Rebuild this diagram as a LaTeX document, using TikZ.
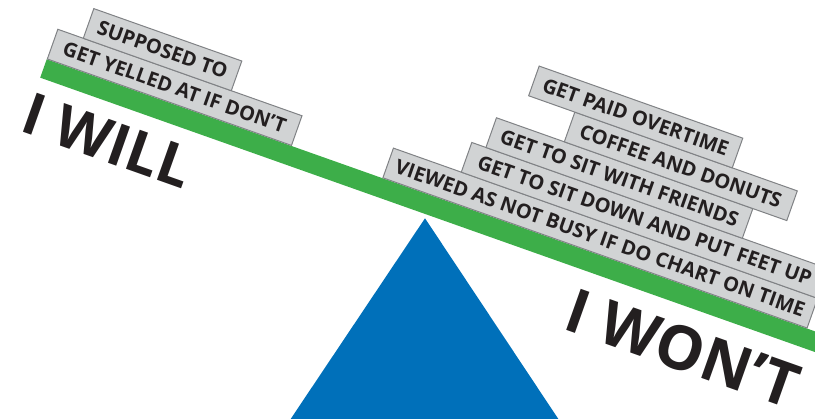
\documentclass[tikz,border=0pt]{standalone}
\usepackage{fontspec}
\setmainfont{Open Sans}
\usetikzlibrary{positioning}
\definecolor{beamgreen}{HTML}{3DAE49}
\definecolor{pivotblue}{HTML}{0070BA}
\definecolor{tagfill}{HTML}{D1D3D4}
\definecolor{tagline}{HTML}{808285}
\definecolor{inkblack}{HTML}{231F20}

\begin{document}
\begin{tikzpicture}[
      x=1pt, y=1pt,
      tag/.style={draw=tagline, fill=tagfill, line width=1pt, anchor=south west,
                  minimum height=31.5pt, inner sep=0pt, text=inkblack,
                  font=\bfseries\fontsize{20}{20}\selectfont},
      bigword/.style={anchor=base west, inner sep=0pt, text=inkblack,
                      font=\bfseries\fontsize{#1}{#1}\selectfont},
      bigword/.default=60
  ]
      \useasboundingbox (0,0) rectangle (815,419);
      \clip (0,0) rectangle (815,419);

      % pivot under the plank
      \fill[pivotblue] (425,200.7) -- (290,-1) -- (559,-1) -- cycle;

      \begin{scope}[shift={(46.7,359.7)}, rotate=-19.5, transform shape]
          \fill[beamgreen] (0,0) rectangle (822,-19.5);

          % reasons on the left end
          \node[tag, minimum width=259pt] (yelled)   at (0,0)      {GET YELLED AT IF DON’T};
          \node[tag, minimum width=157pt] (supposed) at (27,31.5)  {SUPPOSED TO};

          % reasons on the right end
          \node[tag, minimum width=450pt] (busy)     at (356,0)    {VIEWED AS NOT BUSY IF DO CHART ON TIME};
          \node[tag, minimum width=378pt] (feet)     at (428,31.5) {GET TO SIT DOWN AND PUT FEET UP};
          \node[tag, minimum width=272pt] (friends)  at (443,63)   {GET TO SIT WITH FRIENDS};
          \node[tag, minimum width=236pt] (coffee)   at (515,94.5) {COFFEE AND DONUTS};
          \node[tag, minimum width=216pt] (overtime) at (466,126)  {GET PAID OVERTIME};

          \node[bigword=58] (will) at (-3,-77)  {I WILL};
          \node[bigword=61] (wont) at (575,-82) {I WON’T};
      \end{scope}
  \end{tikzpicture}
\end{document}
